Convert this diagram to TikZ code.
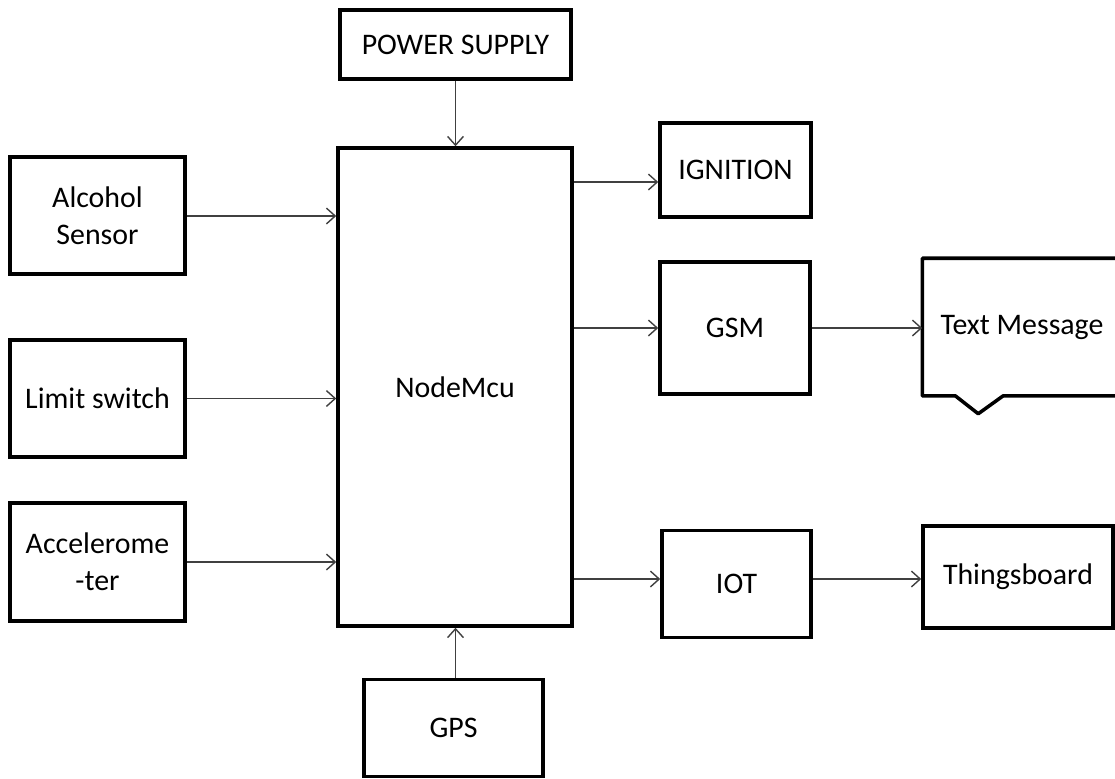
\documentclass[tikz,border=0pt]{standalone}
\usepackage{fontspec}
\setmainfont{Carlito}
\usetikzlibrary{arrows.meta,calc}

\tikzset{
    block/.style={draw, line width=2pt, align=center, inner sep=0pt,
        font=\fontsize{17}{21}\selectfont},
    link/.style={draw=black!75, line width=0.8pt,
        -{Straight Barb[length=5pt,width=9pt]}}
}

\begin{document}
\begin{tikzpicture}[x=0.02cm, y=-0.02cm]
    \def\px{0.02cm}
    \useasboundingbox (0,0) rectangle (1115,778);

    % centre column
    \node[block, minimum width=231*\px, minimum height=69*\px] (power) at (455.5,44.5) {POWER SUPPLY};
    \node[block, minimum width=234*\px, minimum height=478*\px] (mcu) at (455,387) {NodeMcu};
    \node[block, minimum width=179*\px, minimum height=97*\px] (gps) at (453.5,728) {GPS};

    % inputs
    \node[block, minimum width=175*\px, minimum height=117*\px] (alc) at (97.5,215.5) {Alcohol\\Sensor};
    \node[block, minimum width=175*\px, minimum height=117*\px] (lim) at (97.5,398.5) {Limit switch};
    \node[block, minimum width=175*\px, minimum height=118*\px] (acc) at (97.5,562) {Accelerome\\-ter};

    % outputs
    \node[block, minimum width=151*\px, minimum height=94*\px] (ign) at (735.5,170) {IGNITION};
    \node[block, minimum width=150*\px, minimum height=132*\px] (gsm) at (735,328) {GSM};
    \node[block, minimum width=149*\px, minimum height=107*\px] (iot) at (736.5,584) {IOT};
    \node[block, draw=none, minimum width=196*\px, minimum height=134*\px] (txt) at (1022,327) {Text Message};
    \node[block, minimum width=190*\px, minimum height=102*\px] (thb) at (1018,577) {Thingsboard};

    % callout outline
    \draw[line width=2pt, line join=round] (txt.north west) -- (txt.north east) -- (txt.south east)
        -- ($(txt.south west)+(81,0)$) -- ($(txt.south west)+(56,18)$)
        -- ($(txt.south west)+(33,0)$) -- (txt.south west) -- cycle;

    % links
    \draw[link] (power.south) -- (power.south |- mcu.north);
    \draw[link] (gps.north -| power.south) -- (power.south |- mcu.south);
    \draw[link] ($(alc.east)+(0,0.5)$) -- ($(alc.east -| mcu.west)+(0,0.5)$);
    \draw[link] (lim.east) -- (lim.east -| mcu.west);
    \draw[link] (acc.east) -- (acc.east -| mcu.west);
    \draw[link] (mcu.east |- 0,182) -- (ign.west |- 0,182);
    \draw[link] (gsm.west -| mcu.east) -- (gsm.west);
    \draw[link] (mcu.east |- 0,579) -- (iot.west |- 0,579);
    \draw[link] (gsm.east) -- (gsm.east -| txt.west);
    \draw[link] (iot.east |- 0,579) -- (thb.west |- 0,579);
\end{tikzpicture}
\end{document}
